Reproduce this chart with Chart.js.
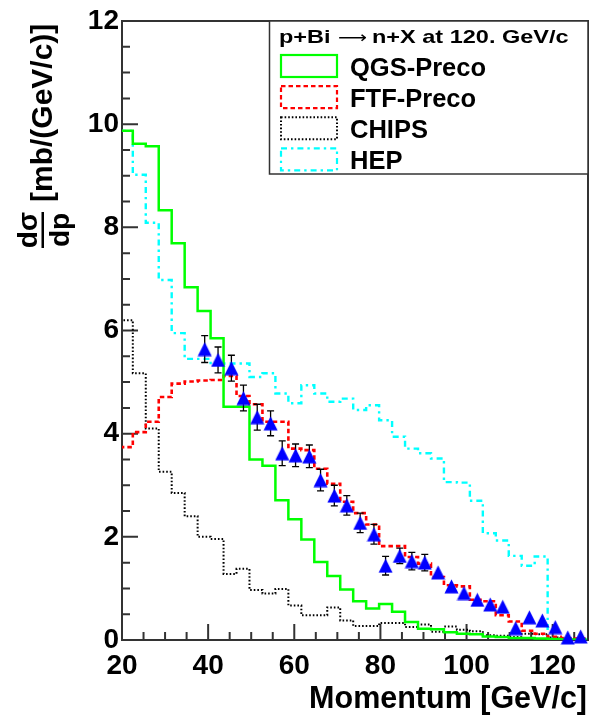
<!DOCTYPE html>
<html lang="en">
<head>
<meta charset="UTF-8">
<title>p+Bi &rarr; n+X at 120 GeV/c</title>
<script src="https://cdn.jsdelivr.net/npm/chart.js@4"></script>
<style>
  body { margin: 0; background: #fff; }
  canvas { display: block; }
</style>
</head>
<body>
<canvas id="spectrum" width="596" height="717"></canvas>
<script>
// momentum binning of the model histograms (GeV/c)
const binStart = 19.5;
const binWidth = 3.01;

// model predictions per bin, dsigma/dp in mb/(GeV/c)
const qgsPreco = [9.87, 9.62, 9.57, 8.33, 7.69, 6.84, 6.38, 5.85, 4.52, 4.52, 3.50, 3.38,
                  2.71, 2.34, 1.95, 1.51, 1.24, 0.98, 0.75, 0.61, 0.70, 0.55, 0.35, 0.22,
                  0.21, 0.15, 0.12, 0.11, 0.07, 0.06, 0.04, 0.04, 0.03, 0.02, 0.01, 0.01];
const ftfPreco = [3.74, 4.03, 4.23, 4.71, 4.97, 5.01, 5.03, 5.04, 5.12, 4.73, 4.57, 4.23,
                  4.23, 3.71, 3.68, 3.32, 3.03, 2.68, 2.46, 2.24, 1.82, 1.82, 1.61, 1.48,
                  1.22, 1.06, 1.04, 0.78, 0.75, 0.48, 0.36, 0.18, 0.12, 0.06, 0.04, 0.03];
const chips    = [6.20, 5.17, 4.10, 3.26, 2.85, 2.40, 2.00, 1.96, 1.28, 1.38, 0.97, 0.90,
                  0.99, 0.67, 0.48, 0.48, 0.63, 0.38, 0.27, 0.27, 0.33, 0.33, 0.25, 0.30,
                  0.16, 0.26, 0.20, 0.17, 0.09, 0.08, 0.06, 0.12, 0.11, 0.05, 0.03, 0.02];
const hep      = [9.87, 9.02, 8.09, 6.98, 5.95, 5.45, 5.45, 5.34, 5.36, 5.36, 5.10, 5.17,
                  4.78, 4.59, 4.94, 4.78, 4.62, 4.68, 4.46, 4.55, 4.26, 3.94, 3.71, 3.62,
                  3.52, 3.06, 3.05, 2.70, 2.07, 1.93, 1.63, 1.44, 1.62, 0.03, 0.02, 0.02];

// measured neutron spectrum
const dataP     = [39.2, 42.3, 45.4, 48.2, 51.4, 54.5, 57.2, 60.3, 63.5, 66.1, 69.3, 72.2,
                   75.3, 78.5, 81.2, 84.5, 87.3, 90.3, 93.4, 96.5, 99.4, 102.5, 105.5, 108.4,
                   111.4, 114.6, 117.6, 120.6, 123.5, 126.5];
const dataSigma = [5.64, 5.43, 5.27, 4.69, 4.32, 4.20, 3.62, 3.58, 3.56, 3.10, 2.80, 2.61,
                   2.27, 2.05, 1.44, 1.63, 1.53, 1.50, 1.31, 1.04, 0.91, 0.78, 0.69, 0.645,
                   0.23, 0.44, 0.38, 0.25, 0.05, 0.07];
const dataErr   = [0.26, 0.25, 0.25, 0.25, 0.25, 0.24, 0.24, 0.22, 0.22, 0.21, 0.20, 0.19,
                   0.19, 0.19, 0.18, 0.15, 0.17, 0.16, 0.12, 0.11, 0.10, 0.09, 0.08, 0.08,
                   0.05, 0.07, 0.07, 0.05, 0.03, 0.03];

const xTicks = [20, 40, 60, 80, 100, 120];
const yTicks = [0, 2, 4, 6, 8, 10, 12];
const legendTitle = ['p+Bi', '\u27f6', 'n+X at 120. GeV/c'];
const modelNames = ['QGS-Preco', 'FTF-Preco', 'CHIPS', 'HEP'];

const FONT = "'Liberation Sans', Arial, Helvetica, sans-serif";
const AXIS_COLOR = '#333';

// histogram -> points for a stepped line (left edge of each bin + closing right edge)
function histPoints(values) {
  const pts = values.map((v, i) => ({ x: binStart + i * binWidth, y: v }));
  pts.push({ x: binStart + values.length * binWidth, y: values[values.length - 1] });
  return pts;
}

// filled up-triangle like ROOT marker 22
const marker = document.createElement('canvas');
marker.width = 15;
marker.height = 15;
(function () {
  const m = marker.getContext('2d');
  m.fillStyle = '#0000ff';
  m.beginPath();
  m.moveTo(7.5, 0.5);
  m.lineTo(14.5, 14.5);
  m.lineTo(0.5, 14.5);
  m.closePath();
  m.fill();
})();

const models = [
  { name: modelNames[0], values: qgsPreco, color: '#00ff00', width: 2.5, dash: [] },
  { name: modelNames[1], values: ftfPreco, color: '#ff0000', width: 2.6, dash: [4.5, 3] },
  { name: modelNames[2], values: chips, color: '#000000', width: 2, dash: [1.6, 2] },
  { name: modelNames[3], values: hep, color: '#00ffff', width: 2.4, dash: [6, 4, 2.4, 4] }
];

const datasets = [{
  label: 'data',
  data: dataP.map((p, i) => ({ x: p, y: dataSigma[i] })),
  showLine: false,
  pointStyle: marker,
  pointRadius: 7,
  clip: false,
  order: 0
}].concat(models.map((m, i) => ({
  label: m.name,
  data: histPoints(m.values),
  stepped: true,
  borderColor: m.color,
  borderWidth: m.width,
  borderDash: m.dash,
  pointRadius: 0,
  fill: false,
  clip: 0,
  order: i + 1
})));

// vertical error bars with end caps, hidden where the marker covers them
const errorBars = {
  id: 'errorBars',
  beforeDatasetDraw(chart, args) {
    if (args.index !== 0) return;
    const { ctx, scales: { x, y } } = chart;
    ctx.save();
    ctx.strokeStyle = '#000';
    ctx.lineWidth = 1.3;
    dataP.forEach((p, i) => {
      const px = x.getPixelForValue(p);
      const lo = y.getPixelForValue(dataSigma[i] - dataErr[i]);
      const hi = y.getPixelForValue(dataSigma[i] + dataErr[i]);
      if ((lo - hi) / 2 <= 7) return;
      ctx.beginPath();
      ctx.moveTo(px, lo); ctx.lineTo(px, hi);
      ctx.moveTo(px - 3.5, lo); ctx.lineTo(px + 3.5, lo);
      ctx.moveTo(px - 3.5, hi); ctx.lineTo(px + 3.5, hi);
      ctx.stroke();
    });
    ctx.restore();
  }
};

// frame with inward major/minor ticks
const frame = {
  id: 'frame',
  beforeDatasetsDraw(chart) {
    const { ctx, chartArea: a, scales: { x, y } } = chart;
    ctx.save();
    ctx.strokeStyle = AXIS_COLOR;
    ctx.lineWidth = 2;
    ctx.strokeRect(a.left, a.top, a.right - a.left, a.bottom - a.top);
    ctx.beginPath();
    for (let v = 20; v <= 128; v += 5) {
      const px = x.getPixelForValue(v);
      const len = v % 20 === 0 ? 16 : 8;
      ctx.moveTo(px, a.bottom);
      ctx.lineTo(px, a.bottom - len);
    }
    for (let v = 0; v <= 12; v += 0.5) {
      const py = y.getPixelForValue(v);
      const len = v % 2 === 0 ? 16 : 8;
      ctx.moveTo(a.left, py);
      ctx.lineTo(a.left + len, py);
    }
    ctx.stroke();
    ctx.restore();
  }
};

// axis titles and the legend box
const annotations = {
  id: 'annotations',
  afterDraw(chart) {
    const { ctx, chartArea: a } = chart;
    ctx.save();
    ctx.fillStyle = '#000';

    // x title, right aligned
    ctx.font = `bold 30.5px ${FONT}`;
    ctx.textAlign = 'right';
    ctx.textBaseline = 'alphabetic';
    ctx.fillText('Momentum [GeV/c]', a.right - 1, 708);

    // y title: d\u03c3/dp fraction followed by the unit
    ctx.save();
    ctx.translate(52, 202);
    ctx.rotate(-Math.PI / 2);
    ctx.textAlign = 'left';
    ctx.font = `bold 30px ${FONT}`;
    ctx.fillText('[mb/(GeV/c)]', 0, 0);
    ctx.restore();

    ctx.save();
    ctx.font = `bold 28px ${FONT}`;
    ctx.textAlign = 'center';
    ctx.translate(37, 230);
    ctx.rotate(-Math.PI / 2);
    ctx.fillText('d\u03c3', 0, 0);
    ctx.restore();
    ctx.save();
    ctx.translate(68.5, 230);
    ctx.rotate(-Math.PI / 2);
    ctx.font = `bold 28px ${FONT}`;
    ctx.textAlign = 'center';
    ctx.fillText('dp', 0, 0);
    ctx.restore();
    ctx.fillRect(41.5, 212, 2.5, 36);

    // legend
    const lx = 269.5, ly = a.top, lw = a.right - lx, lh = 153;
    ctx.fillStyle = '#fff';
    ctx.fillRect(lx, ly, lw, lh);
    ctx.strokeStyle = AXIS_COLOR;
    ctx.lineWidth = 1.5;
    ctx.setLineDash([]);
    ctx.strokeRect(lx, ly, lw, lh);

    // header: reaction, a thin arrow squeezed into its slot, then the beam momentum
    ctx.fillStyle = '#000';
    ctx.textAlign = 'left';
    ctx.save();
    ctx.translate(0, 42.5);
    ctx.scale(1, 0.82);
    ctx.font = `bold 23.5px ${FONT}`;
    ctx.fillText(legendTitle[0], 279, 0);
    ctx.fillText(legendTitle[2], 372, 0);
    ctx.font = "20px 'DejaVu Sans', sans-serif";
    const aw = ctx.measureText(legendTitle[1]).width;
    ctx.translate(338, 0);
    ctx.scale(29 / aw, 1);
    ctx.fillText(legendTitle[1], 0, 0);
    ctx.restore();

    ctx.font = `bold 25.5px ${FONT}`;
    models.forEach((m, i) => {
      const top = 55 + i * 31.1;
      ctx.save();
      ctx.strokeStyle = m.color;
      ctx.lineWidth = Math.min(m.width, 2.2);
      ctx.setLineDash(m.dash);
      ctx.strokeRect(281, top, 56, 22);
      ctx.restore();
      ctx.fillText(m.name, 350, top + 21);
    });
    ctx.restore();
  }
};

const tickFont = { family: FONT, size: 28, weight: 'bold' };

new Chart(document.getElementById('spectrum'), {
  type: 'line',
  data: { datasets },
  options: {
    responsive: false,
    animation: false,
    events: [],
    layout: { padding: { top: 21, right: 3, left: 0, bottom: 0 } },
    plugins: { legend: { display: false }, tooltip: { enabled: false } },
    scales: {
      x: {
        type: 'linear',
        min: 20,
        max: 128.2,
        grid: { display: false, drawTicks: false },
        border: { display: false },
        ticks: { font: tickFont, color: '#000', padding: 9, maxRotation: 0, autoSkip: false },
        afterBuildTicks: s => { s.ticks = xTicks.map(v => ({ value: v })); },
        afterFit: s => { s.height = 77; }
      },
      y: {
        type: 'linear',
        min: 0,
        max: 12,
        grid: { display: false, drawTicks: false },
        border: { display: false },
        ticks: { font: tickFont, color: '#000', padding: 3, autoSkip: false },
        afterBuildTicks: s => { s.ticks = yTicks.map(v => ({ value: v })); },
        afterFit: s => { s.width = 122; }
      }
    }
  },
  plugins: [frame, errorBars, annotations]
});
</script>
</body>
</html>
